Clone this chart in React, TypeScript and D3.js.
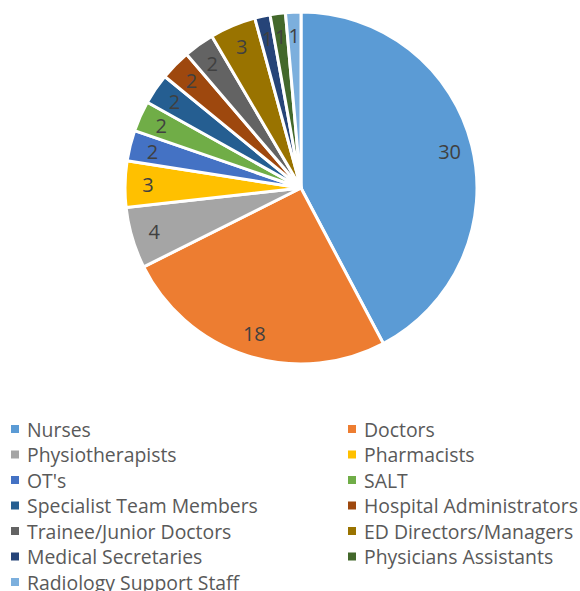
import React from "react";
import * as d3 from "d3";

const categories = [
  "Nurses", "Doctors", "Physiotherapists", "Pharmacists", "OT's", "SALT",
  "Specialist Team Members", "Hospital Administrators", "Trainee/Junior Doctors",
  "ED Directors/Managers", "Medical Secretaries", "Physicians Assistants", "Radiology Support Staff",
];
const values = [30, 18, 4, 3, 2, 2, 2, 2, 2, 3, 1, 1, 1];
const colors = [
  "#5B9BD5", "#ED7D31", "#A5A5A5", "#FFC000", "#4472C4", "#70AD47",
  "#255E91", "#9E480E", "#636363", "#997300", "#264478", "#43682B", "#7CAFDD",
];

const W = 580, H = 591;
const cx = 301, cy = 188, R = 176;
const font = "'Open Sans', sans-serif";

export default function App() {
  const data = categories.map((c, i) => ({ c, v: values[i], col: colors[i] }));
  const pie = d3.pie<any>().value((d) => d.v).sort(null);
  const arcs = pie(data);
  const arc = d3.arc<any>().innerRadius(0).outerRadius(R);
  const labelArc = d3.arc<any>().innerRadius(R * 0.87).outerRadius(R * 0.87);
  const rowY = d3.scaleLinear().domain([0, 6]).range([429, 582]);
  const colX = [11, 348];
  return (
    <svg width={W} height={H} style={{ position: "absolute", left: 0, top: 0 }}>
      <rect width={W} height={H} fill="#fff" />
      <g transform={`translate(${cx},${cy})`}>
        {arcs.map((a, i) => (
          <path key={i} d={arc(a) as string} fill={a.data.col} stroke="#fff" strokeWidth={3} strokeLinejoin="round" />
        ))}
        {arcs.map((a, i) => {
          const [x, y] = labelArc.centroid(a);
          return (
            <text key={i} x={x} y={y} textAnchor="middle" dominantBaseline="central"
              fontFamily={font} fontSize={20} fill="#404040">{a.data.v}</text>
          );
        })}
      </g>
      {data.map((d, i) => {
        const col = i % 2, row = Math.floor(i / 2);
        const y = rowY(row);
        return (
          <g key={i}>
            <rect x={colX[col]} y={y - 4} width={8} height={8} fill={d.col} />
            <text x={colX[col] + 16} y={y} dominantBaseline="central" fontFamily={font}
              fontSize={19.4} fill="#595959">{d.c}</text>
          </g>
        );
      })}
    </svg>
  );
}
